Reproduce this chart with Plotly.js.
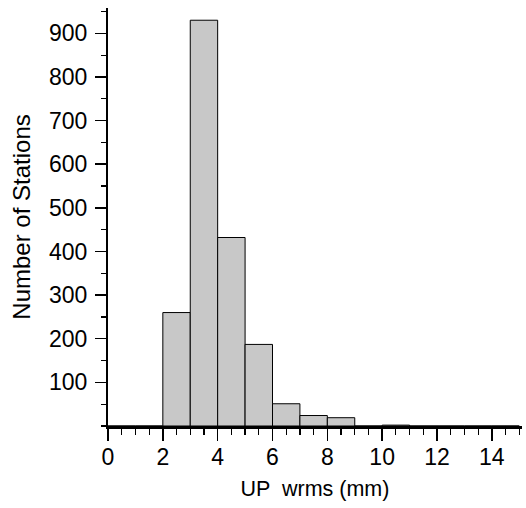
<!DOCTYPE html>
<html>
<head>
<meta charset="utf-8">
<script src="https://cdn.plot.ly/plotly-3.0.1.min.js"></script>
<style>
  html, body { margin: 0; padding: 0; background: #fff; }
  #chart { width: 526px; height: 508px; }
</style>
</head>
<body>
<div id="chart"></div>
<script>
// Histogram of vertical (UP) weighted RMS, 1 mm bins
const binCenters = [0.5, 1.5, 2.5, 3.5, 4.5, 5.5, 6.5, 7.5, 8.5, 9.5, 10.5, 11.5, 12.5, 13.5, 14.5];
const stationCounts = [0, 0, 260, 930, 432, 187, 51, 24, 19, 0, 2, 0, 0, 0, 0];
const yTickValues = [100, 200, 300, 400, 500, 600, 700, 800, 900];
const xTickValues = [0, 2, 4, 6, 8, 10, 12, 14];

const family = 'Liberation Sans, Arial, Helvetica, sans-serif';
const tickFont = { family: family, size: 23, color: '#000' };

const trace = {
  type: 'bar',
  x: binCenters,
  y: stationCounts,
  width: 1,
  marker: { color: '#c8c8c8', line: { color: '#000', width: 1 } },
  hoverinfo: 'x+y'
};

const layout = {
  width: 526,
  height: 508,
  margin: { l: 108, r: 4, t: 8, b: 82 },
  paper_bgcolor: '#fff',
  plot_bgcolor: '#fff',
  font: tickFont,
  showlegend: false,
  bargap: 0,
  xaxis: {
    range: [0, 15.1],
    tickmode: 'array',
    tickvals: xTickValues,
    ticks: 'outside',
    ticklen: 12,
    tickwidth: 1.5,
    tickcolor: '#000',
    tickfont: tickFont,
    ticklabelstandoff: -4,
    showline: true,
    linewidth: 3,
    linecolor: '#000',
    showgrid: false,
    zeroline: false,
    minor: { dtick: 0.5, tick0: 0, ticks: 'outside', ticklen: 6, tickwidth: 1.2, tickcolor: '#000', showgrid: false },
    title: { text: 'UP  wrms (mm)', font: { family: family, size: 21.5, color: '#000' }, standoff: 13 }
  },
  yaxis: {
    range: [0, 958],
    tickmode: 'array',
    tickvals: yTickValues,
    ticks: 'outside',
    ticklen: 11,
    tickwidth: 1.5,
    tickcolor: '#000',
    tickfont: tickFont,
    ticklabelstandoff: 3,
    showline: true,
    linewidth: 2,
    linecolor: '#000',
    showgrid: false,
    zeroline: false,
    minor: { dtick: 50, tick0: 0, ticks: 'outside', ticklen: 5, tickwidth: 1.2, tickcolor: '#000', showgrid: false },
    title: { text: 'Number of Stations', font: { family: family, size: 24, color: '#000' }, standoff: 12 }
  }
};

Plotly.newPlot('chart', [trace], layout, { displayModeBar: false, staticPlot: true });
</script>
</body>
</html>
